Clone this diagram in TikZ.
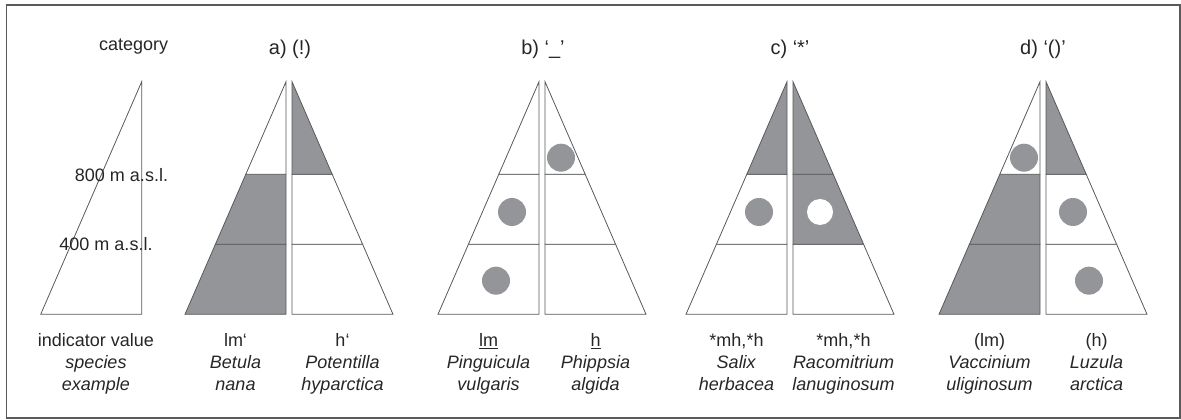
\documentclass[tikz,border=0pt]{standalone}
\usepackage{fontspec}
\setmainfont{Liberation Sans}
\usepackage{xcolor}
\usepackage{tikz}
\usetikzlibrary{positioning}

\definecolor{bandgray}{HTML}{939598}
\definecolor{linegray}{HTML}{58595B}
\definecolor{framegray}{HTML}{5A5A5A}

% one half of a pyramid: edge x, side (-1 left, 1 right), fill of top, middle, bottom band
\newcommand{\halfpyr}[5]{%
  \begin{scope}[shift={(#1,0)},xscale=#2]
    \draw[band,fill=#5] (0,175.7) -- (0,105.7) -- (101,105.7) -- (70.6,175.7) -- cycle;
    \draw[band,fill=#4] (0,245.7) -- (0,175.7) -- (70.6,175.7) -- (40.2,245.7) -- cycle;
    \draw[band,fill=#3] (0,338.3) -- (0,245.7) -- (40.2,245.7) -- cycle;
  \end{scope}}

\begin{document}
\begin{tikzpicture}[x=1pt,y=1pt]
        \tikzstyle{band} = [draw=linegray, line width=0.8pt, line join=miter]
        \tikzstyle{spot} = [fill=bandgray]
        \tikzstyle{hole} = [fill=white]
        \tikzstyle{txt} = [anchor=base, inner sep=0pt, font=\fontsize{18}{22}\selectfont, text=black!85]
        \tikzstyle{title} = [txt, font=\fontsize{20}{24}\selectfont]
        \tikzstyle{lbl} = [txt, align=center]

        \useasboundingbox (0,0) rectangle (1181,420);
        \draw[framegray, line width=1.4pt] (6.5,2) rectangle (1180,415);

        % reference triangle
        \draw[band] (141.7,338.3) -- (141.7,105.7) -- (40.7,105.7) -- cycle;
        \node (cat) [txt] at (133.7,369) {category};
        \node (m800) [txt] at (121.5,238.3) {800 m a.s.l.};
        \node (m400) [txt] at (106,169.3) {400 m a.s.l.};
        \node (legend) [lbl] at (96,29.5) {indicator value\\\textit{species}\\\textit{example}};

        % a) (!)
        \halfpyr{286}{-1}{white}{bandgray}{bandgray}
        \halfpyr{292}{1}{bandgray}{white}{white}
        \node (ta) [title] at (290,365) {a) (!)};
        \node (la) [lbl] at (235.5,29) {lm‘\\\textit{Betula}\\\textit{nana}};
        \node (ra) [lbl] at (342.5,29) {h‘\\\textit{Potentilla}\\\textit{hyparctica}};

        % b) '_'
        \halfpyr{539}{-1}{white}{white}{white}
        \halfpyr{545}{1}{white}{white}{white}
        \fill[spot] (512,208) circle (14);
        \fill[spot] (496,139.3) circle (14);
        \fill[spot] (561,262.3) circle (14);
        \node (tb) [title] at (543,365) {b) ‘\_’};
        \node (lb) [lbl] at (488.5,29) {\underline{lm}\\\textit{Pinguicula}\\\textit{vulgaris}};
        \node (rb) [lbl] at (595.5,29) {\underline{h}\\\textit{Phippsia}\\\textit{algida}};

        % c) '*'
        \halfpyr{787}{-1}{bandgray}{white}{white}
        \halfpyr{793}{1}{bandgray}{bandgray}{white}
        \fill[spot] (759,208) circle (14);
        \fill[hole] (820,208) circle (13);
        \node (tc) [title] at (790,365) {c) ‘*’};
        \node (lc) [lbl] at (736.5,29) {*mh,*h\\\textit{Salix}\\\textit{herbacea}};
        \node (rc) [lbl] at (843.5,29) {*mh,*h\\\textit{Racomitrium}\\\textit{lanuginosum}};

        % d) '()'
        \halfpyr{1040}{-1}{white}{bandgray}{bandgray}
        \halfpyr{1046}{1}{bandgray}{white}{white}
        \fill[spot] (1024,262.3) circle (14);
        \fill[spot] (1073,208) circle (14);
        \fill[spot] (1089,139.3) circle (14);
        \node (td) [title] at (1043,365) {d) ‘()’};
        \node (ld) [lbl] at (989.5,29) {(lm)\\\textit{Vaccinium}\\\textit{uliginosum}};
        \node (rd) [lbl] at (1096.5,29) {(h)\\\textit{Luzula}\\\textit{arctica}};
\end{tikzpicture}
\end{document}
